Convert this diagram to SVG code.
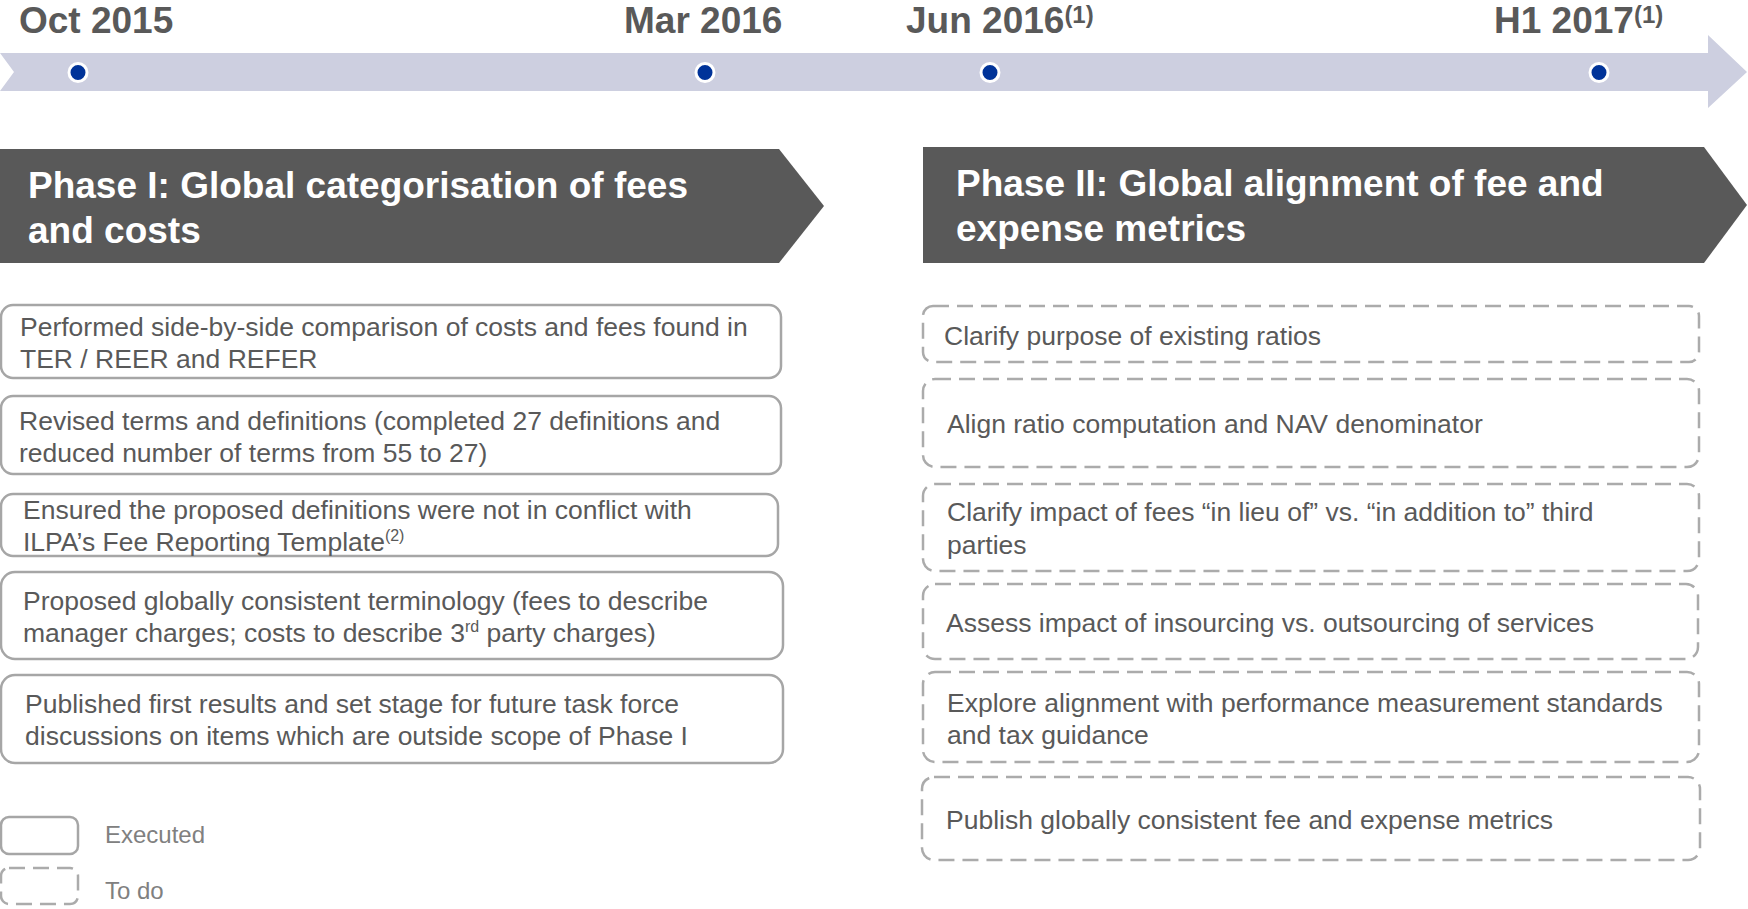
<svg xmlns="http://www.w3.org/2000/svg" width="1748" height="909" viewBox="0 0 1748 909">
  <style>
    .date { font-family: "Liberation Sans", Arial, sans-serif; font-weight: bold; font-size: 37px; fill: #595959; }
    .sup1 { font-size: 24px; }
    .phase { fill: #595959; }
    .phase-text { font-family: "Liberation Sans", Arial, sans-serif; font-weight: bold; font-size: 37px; fill: #ffffff; }
    .done { fill: #ffffff; stroke: #a6a6a6; stroke-width: 2.5; }
    .todo { fill: #ffffff; stroke: #ababab; stroke-width: 2.5; stroke-dasharray: 16 8; }
    .body { font-family: "Liberation Sans", Arial, sans-serif; font-size: 26.5px; fill: #595959; }
    .sup2 { font-size: 16px; }
    .legend { font-family: "Liberation Sans", Arial, sans-serif; font-size: 24px; fill: #808080; }
    .dot { fill: #003399; stroke: #ffffff; stroke-width: 3; }
  </style>

  <!-- timeline -->
  <g id="timeline">
    <path d="M0,53 H1708 V35 L1747,72 L1708,108 V91 H0 L14,72 Z" fill="#cdcfe0"/>
    <circle class="dot" cx="78" cy="72.5" r="9"/>
    <circle class="dot" cx="705" cy="72.5" r="9"/>
    <circle class="dot" cx="990" cy="72.5" r="9"/>
    <circle class="dot" cx="1599" cy="72.5" r="9"/>
    <text class="date" x="19" y="33">Oct 2015</text>
    <text class="date" x="624" y="33">Mar 2016</text>
    <text class="date" x="906" y="33">Jun 2016<tspan class="sup1" dy="-10">(1)</tspan></text>
    <text class="date" x="1494" y="33">H1 2017<tspan class="sup1" dy="-10">(1)</tspan></text>
  </g>

  <!-- phase headers -->
  <g id="phase1">
    <path class="phase" d="M0,149 H779 L824,206 L779,263 H0 Z"/>
    <text class="phase-text" x="28" y="198">Phase I: Global categorisation of fees</text>
    <text class="phase-text" x="28" y="243">and costs</text>
  </g>
  <g id="phase2">
    <path class="phase" d="M923,147 H1704 L1747,205 L1704,263 H923 Z"/>
    <text class="phase-text" x="956" y="196">Phase II: Global alignment of fee and</text>
    <text class="phase-text" x="956" y="241">expense metrics</text>
  </g>

  <!-- phase I: executed items -->
  <g id="p1-item1">
    <rect class="done" x="1" y="305" width="780" height="73" rx="12"/>
    <text class="body" x="20" y="336">Performed side-by-side comparison of costs and fees found in</text>
    <text class="body" x="20" y="368">TER / REER and REFER</text>
  </g>
  <g id="p1-item2">
    <rect class="done" x="1" y="396" width="780" height="78" rx="12"/>
    <text class="body" x="19" y="430">Revised terms and definitions (completed 27 definitions and</text>
    <text class="body" x="19" y="462">reduced number of terms from 55 to 27)</text>
  </g>
  <g id="p1-item3">
    <rect class="done" x="1" y="494" width="777" height="62" rx="12"/>
    <text class="body" x="23" y="519">Ensured the proposed definitions were not in conflict with</text>
    <text class="body" x="23" y="551">ILPA’s Fee Reporting Template<tspan class="sup2" dy="-10">(2)</tspan></text>
  </g>
  <g id="p1-item4">
    <rect class="done" x="1" y="572" width="782" height="87" rx="14"/>
    <text class="body" x="23" y="610">Proposed globally consistent terminology (fees to describe</text>
    <text class="body" x="23" y="642">manager charges; costs to describe 3<tspan class="sup2" dy="-10">rd</tspan><tspan dy="10"> party charges)</tspan></text>
  </g>
  <g id="p1-item5">
    <rect class="done" x="1" y="675" width="782" height="88" rx="14"/>
    <text class="body" x="25" y="713">Published first results and set stage for future task force</text>
    <text class="body" x="25" y="745">discussions on items which are outside scope of Phase I</text>
  </g>

  <!-- phase II: items to do -->
  <g id="p2-item1">
    <rect class="todo" x="923" y="306" width="776" height="56" rx="10"/>
    <text class="body" x="944" y="345">Clarify purpose of existing ratios</text>
  </g>
  <g id="p2-item2">
    <rect class="todo" x="923" y="379" width="776" height="88" rx="12"/>
    <text class="body" x="947" y="433">Align ratio computation and NAV denominator</text>
  </g>
  <g id="p2-item3">
    <rect class="todo" x="923" y="484" width="776" height="87" rx="12"/>
    <text class="body" x="947" y="521">Clarify impact of fees “in lieu of” vs. “in addition to” third</text>
    <text class="body" x="947" y="554">parties</text>
  </g>
  <g id="p2-item4">
    <rect class="todo" x="923" y="584" width="775" height="75" rx="12"/>
    <text class="body" x="946" y="632">Assess impact of insourcing vs. outsourcing of services</text>
  </g>
  <g id="p2-item5">
    <rect class="todo" x="923" y="672" width="776" height="90" rx="12"/>
    <text class="body" x="947" y="712">Explore alignment with performance measurement standards</text>
    <text class="body" x="947" y="744">and tax guidance</text>
  </g>
  <g id="p2-item6">
    <rect class="todo" x="922" y="777" width="778" height="83" rx="12"/>
    <text class="body" x="946" y="829">Publish globally consistent fee and expense metrics</text>
  </g>

  <!-- legend -->
  <g id="legend">
    <rect class="done" x="1" y="817" width="77" height="37" rx="8"/>
    <text class="legend" x="105" y="843">Executed</text>
    <rect class="todo" x="1" y="868" width="77" height="36" rx="8"/>
    <text class="legend" x="105" y="899">To do</text>
  </g>

  <!-- no connectors in this layout -->
  <g id="connectors"/>
</svg>
